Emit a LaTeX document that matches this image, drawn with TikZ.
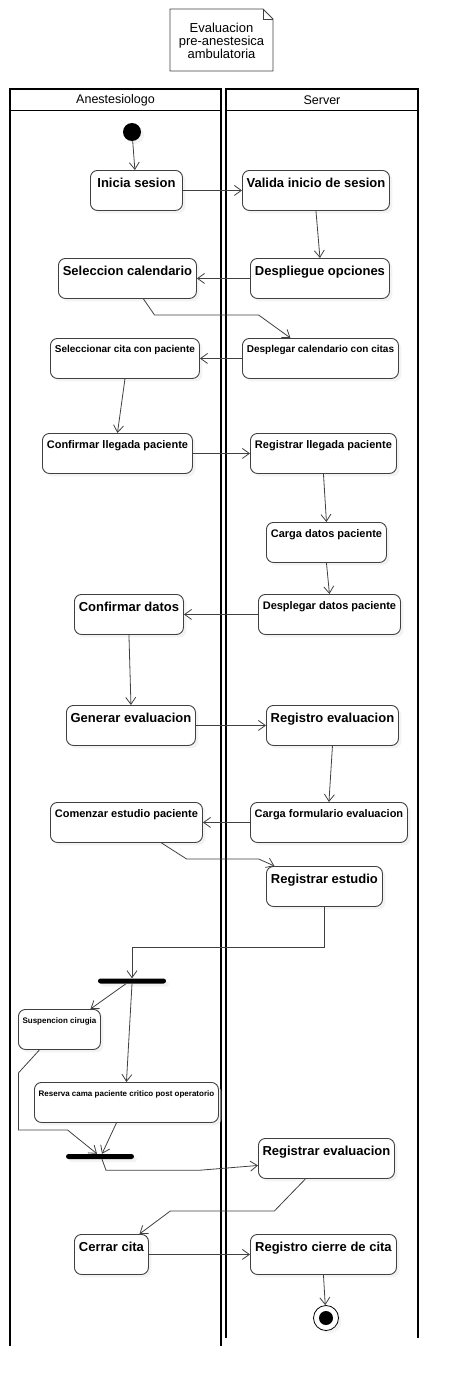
\documentclass[tikz,border=0pt]{standalone}
\usepackage{fontspec}
\setmainfont{Liberation Sans}
\usetikzlibrary{arrows.meta,shadows}
\begin{document}
\begin{tikzpicture}[x=1pt,y=-1pt]
	\tikzstyle{actstate} = [draw=black!75, line width=0.9pt, rounded corners=7pt, fill=white, anchor=north west, inner xsep=2pt, inner ysep=0pt, minimum height=40pt, drop shadow={shadow xshift=3pt, shadow yshift=-3pt, fill=black!9}]
	\tikzstyle{bigtxt} = [font=\bfseries\fontsize{13}{15}\selectfont, text height=17pt, text depth=23pt]
	\tikzstyle{midtxt} = [font=\bfseries\fontsize{11}{13}\selectfont, text height=15.5pt, text depth=24.5pt]
	\tikzstyle{smalltxt} = [font=\bfseries\fontsize{10}{12}\selectfont, text height=14.5pt, text depth=25.5pt]
	\tikzstyle{tinytxt} = [font=\bfseries\fontsize{8}{10}\selectfont, text height=14.5pt, text depth=25.5pt]
	\tikzstyle{actedge} = [-{Straight Barb[length=7pt,width=10pt]}, draw=black!75, line width=0.8pt]
	\tikzstyle{lane} = [line width=1.7pt, black]
	\tikzstyle{lanehead} = [font=\fontsize{12.5}{14}\selectfont]
	\tikzstyle{syncbar} = [rectangle, fill=black, minimum width=68pt, minimum height=5pt, inner sep=0pt, rounded corners=2.5pt, drop shadow={shadow xshift=3pt, shadow yshift=-3pt, fill=black!9}]

	\useasboundingbox (0,0) rectangle (458,1386);

	% NOTE %
	\draw[draw=black!75, line width=0.9pt] (170,9) -- (263,9) -- (273,19) -- (273,71) -- (170,71) -- cycle;
	\draw[draw=black!75, line width=0.7pt] (263,9) -- (263,19) -- (273,19);
	\node[align=center, font=\fontsize{13}{13}\selectfont] (note) at (221.5,40.5) {Evaluacion\\pre-anestesica\\ambulatoria};

	% LANES %
	\draw[lane] (10,1346) -- (10,89) -- (221,89) -- (221,1346);
	\draw[lane] (10,110.5) -- (221,110.5);
	\draw[lane] (226,1338) -- (226,89) -- (418,89) -- (418,1338);
	\draw[lane] (226,110.5) -- (418,110.5);
	\node[lanehead] (anest) at (115.5,100) {Anestesiologo};
	\node[lanehead] (server) at (322,100) {Server};

	% NODES %
	\node[circle, fill=black, minimum size=18pt, inner sep=0pt, drop shadow={shadow xshift=3pt, shadow yshift=-3pt, fill=black!9}] (start) at (132,132) {};

	\node[actstate, bigtxt, minimum width=92pt] (inicia) at (90,170) {Inicia sesion};
	\node[actstate, bigtxt, minimum width=147pt] (valida) at (242,170) {Valida inicio de sesion};
	\node[actstate, bigtxt, minimum width=139pt] (despop) at (250,258) {Despliegue opciones};
	\node[actstate, bigtxt, minimum width=138pt] (selcal) at (58,258) {Seleccion calendario};
	\node[actstate, smalltxt, minimum width=149pt] (selcita) at (50,338) {Seleccionar cita con paciente};
	\node[actstate, smalltxt, minimum width=156pt] (despcal) at (242,338) {Desplegar calendario con citas};
	\node[actstate, midtxt, minimum width=150pt] (confll) at (42,433) {Confirmar llegada paciente};
	\node[actstate, midtxt, minimum width=146pt] (regll) at (250,433) {Registrar llegada paciente};
	\node[actstate, midtxt, minimum width=120pt] (cargad) at (266,522) {Carga datos paciente};
	\node[actstate, midtxt, minimum width=142pt] (despd) at (258,594) {Desplegar datos paciente};
	\node[actstate, bigtxt, minimum width=109pt] (confd) at (74,594) {Confirmar datos};
	\node[actstate, bigtxt, minimum width=129pt] (geneval) at (66,705) {Generar evaluacion};
	\node[actstate, bigtxt, minimum width=132pt] (regeval) at (266,705) {Registro evaluacion};
	\node[actstate, midtxt, minimum width=157pt] (cargaf) at (250,802) {Carga formulario evaluacion};
	\node[actstate, midtxt, minimum width=152pt] (comest) at (50,802) {Comenzar estudio paciente};
	\node[actstate, bigtxt, minimum width=116pt] (regest) at (266,866) {Registrar estudio};

	\node[syncbar] (fork) at (132,981) {};
	\node[actstate, tinytxt, minimum width=82pt] (susp) at (18,1009) {Suspencion cirugia};
	\node[actstate, tinytxt, minimum width=184pt] (reserva) at (34,1082) {Reserva cama paciente critico post operatorio};
	\node[syncbar] (join) at (100,1156.5) {};

	\node[actstate, bigtxt, minimum width=136pt] (regeval2) at (258,1138) {Registrar evaluacion};
	\node[actstate, bigtxt, minimum width=74pt] (cerrar) at (74,1234) {Cerrar cita};
	\node[actstate, bigtxt, minimum width=146pt] (regcierre) at (250,1234) {Registro cierre de cita};

	\node[circle, draw=black, line width=0.8pt, fill=white, minimum size=25pt, inner sep=0pt, drop shadow={shadow xshift=3pt, shadow yshift=-3pt, fill=black!9}] (final) at (326,1318) {};
	\node[circle, fill=black, minimum size=14pt, inner sep=0pt] (finaldot) at (326,1318) {};

	% EDGES %
	\draw[actedge] (start) -- (inicia);
	\draw[actedge] (inicia.east) -- (valida.west);
	\draw[actedge] (valida.south) -- (despop.north);
	\draw[actedge] (despop.west) -- (selcal.east);
	\draw[actedge] ([xshift=16pt]selcal.south) -- ++(11,16) -- ++(104,0) -- ([xshift=-30pt]despcal.north);
	\draw[actedge] (despcal.west) -- (selcita.east);
	\draw[actedge] (selcita.south) -- (confll.north);
	\draw[actedge] (confll.east) -- (regll.west);
	\draw[actedge] (regll.south) -- (cargad.north);
	\draw[actedge] (cargad.south) -- (despd.north);
	\draw[actedge] (despd.west) -- (confd.east);
	\draw[actedge] (confd.south) -- (geneval.north);
	\draw[actedge] (geneval.east) -- (regeval.west);
	\draw[actedge] (regeval.south) -- (cargaf.north);
	\draw[actedge] (cargaf.west) -- (comest.east);
	\draw[actedge] ([xshift=35pt]comest.south) -- ++(25,16) -- ++(72,0) -- ([xshift=-50pt]regest.north);
	\draw[actedge] (regest.south) -- ++(0,40) -| (fork.north);
	%fork
	\draw[actedge] ([xshift=-6pt]fork.south) -- ([xshift=31pt]susp.north);
	\draw[actedge] (fork.south) -- (reserva.north);
	%join
	\draw[actedge] ([xshift=-20pt]susp.south) -- ++(-21,23) -- ++(0,57) -- ++(49,0) -- ([xshift=-3pt]join.north);
	\draw[actedge] ([xshift=-10pt]reserva.south) -- ([xshift=2pt]join.north);
	\draw[actedge] ([xshift=2pt]join.south) -- ++(4,11) -- ++(94,0) -- ([yshift=-7pt]regeval2.west);
	\draw[actedge] ([xshift=-21pt]regeval2.south) -- ++(-31,32) -- ++(-104,0) -- ([xshift=28pt]cerrar.north);
	\draw[actedge] (cerrar.east) -- (regcierre.west);
	\draw[actedge] (regcierre.south) -- (final);
\end{tikzpicture}
\end{document}
